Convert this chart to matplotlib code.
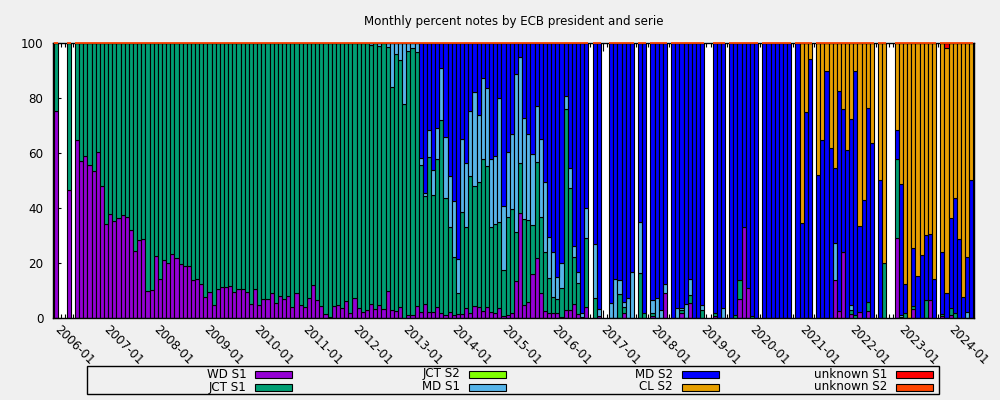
import matplotlib
matplotlib.use('Agg')
import matplotlib.pyplot as plt
from matplotlib.patches import Rectangle
import numpy as np

plt.rcParams['font.family'] = ['DejaVu Sans']

# Months 2006-01 .. 2024-06
months = [f"{2006 + k // 12}-{k % 12 + 1:02d}" for k in range(222)]

wd_s1 = [
    75.3, 0, 0, 46.8, 0, 65.0, 57.3, 59.2, 55.9, 53.7, 60.6, 48.2,
    34.2, 38.1, 35.5, 36.3, 37.4, 37.0, 32.2, 24.6, 28.3, 29.0, 10.1, 10.4,
    22.8, 14.4, 21.3, 20.2, 23.5, 22.1, 19.9, 18.9, 19.2, 13.8, 14.4, 12.6,
    7.9, 9.6, 5.0, 10.8, 11.5, 11.4, 11.9, 9.7, 10.8, 10.8, 9.7, 5.3,
    10.8, 5.0, 7.2, 7.2, 9.3, 5.7, 8.2, 7.2, 8.2, 4.2, 9.3, 5.0,
    4.2, 7.5, 12.2, 6.8, 4.6, 1.7, 0.6, 4.6, 5.0, 3.9, 6.4, 2.1,
    7.5, 3.9, 2.4, 3.2, 5.3, 3.5, 5.0, 3.5, 10.1, 3.2, 2.8, 4.2,
    0.2, 1.3, 1.3, 4.6, 2.4, 5.1, 2.4, 2.4, 4.0, 2.1, 1.1, 2.4,
    1.1, 1.6, 1.6, 3.6, 1.8, 4.6, 4.0, 2.8, 4.2, 2.4, 2.1, 3.6,
    0.8, 1.1, 2.1, 13.6, 38.2, 4.8, 6.1, 16.0, 21.8, 9.1, 2.8, 1.8,
    2.1, 1.8, 0.4, 3.0, 3.0, 5.1, 1.5, 0, 4.2, 0, 0, 0.8,
    0, 0, 0, 0, 0, 2.1, 0, 0, 0, 0, 0, 0,
    1.0, 0, 0, 9.3, 0, 0, 0, 1.9, 0, 5.7, 0, 0,
    0, 0, 0, 1.0, 0, 0, 0, 0, 0, 7.2, 33.2, 11.2,
    0, 0, 0, 0, 0, 0, 0, 0, 0, 0, 0, 0,
    0, 0, 0, 0, 0, 0, 0, 0, 13.9, 2.7, 24.1, 0,
    1.6, 0, 2.2, 0, 2.8, 0, 0, 0, 0, 0, 0, 29.1,
    0.6, 0, 0, 3.3, 0, 0, 0, 6.7, 0, 0, 0.8, 0,
    1.1, 0, 0, 0, 0, 0,
]

jct_s1 = [
    24.7, 0, 0, 53.2, 0, 35.0, 42.7, 40.8, 44.1, 46.3, 39.4, 51.8,
    65.8, 61.9, 64.5, 63.7, 62.6, 63.0, 67.8, 75.4, 71.7, 71.0, 89.9, 89.6,
    77.2, 85.6, 78.7, 79.8, 76.5, 77.9, 80.1, 81.1, 80.8, 86.2, 85.6, 87.4,
    92.1, 90.4, 95.0, 89.2, 88.5, 88.6, 88.1, 90.3, 89.2, 89.2, 90.3, 94.7,
    89.2, 95.0, 92.8, 92.8, 90.7, 94.3, 91.8, 92.8, 91.8, 95.8, 90.7, 95.0,
    95.8, 92.5, 87.8, 93.2, 95.4, 98.3, 99.4, 95.4, 95.0, 96.1, 93.6, 97.9,
    92.5, 96.1, 97.6, 96.8, 94.1, 96.5, 94.2, 96.5, 88.7, 80.9, 93.4, 89.8,
    77.9, 95.9, 97.1, 92.2, 53.4, 39.4, 56.4, 42.3, 53.8, 69.9, 42.5, 30.7,
    21.3, 7.5, 36.9, 29.5, 50.0, 43.5, 45.5, 55.1, 51.1, 30.7, 32.1, 31.6,
    16.8, 35.9, 37.5, 17.9, 18.2, 31.2, 29.7, 17.9, 34.9, 27.6, 21.3, 12.7,
    5.8, 5.1, 10.5, 73.0, 44.3, 17.1, 11.2, 0.4, 24.9, 0, 7.3, 0,
    0, 0, 0, 0, 8.7, 2.1, 0, 0, 0, 16.4, 1.8, 0,
    0.9, 0, 0, 0, 0, 0, 0, 1.3, 0, 2.9, 0, 0,
    3.2, 0, 0, 0.9, 0, 0, 0, 0, 1.3, 6.9, 0, 0,
    1.0, 0, 0, 0, 0, 0, 0, 0, 0, 0, 0, 0,
    0, 0, 0, 0, 0, 0, 0, 0, 0, 0, 0, 0,
    1.4, 1.2, 0, 0, 3.0, 0, 0, 0, 20.2, 0, 0, 28.7,
    0, 2.1, 0, 1.3, 0, 0, 6.7, 0, 0, 0, 0.8, 0,
    2.8, 1.8, 0, 0, 0, 0,
]

jct_s2 = [0] * 222

md_s1 = [0] * 72 + [
    0, 0, 0, 0, 0.6, 0, 0.8, 0, 1.2, 15.9, 3.8, 6.0,
    21.9, 2.8, 1.6, 3.2, 2.4, 1.0, 9.7, 9.2, 11.3, 19.2, 22.2, 18.8,
    20.4, 12.4, 26.6, 23.3, 23.5, 34.1, 24.6, 29.6, 28.3, 25.0, 25.0, 44.8,
    23.2, 23.6, 27.3, 57.3, 38.5, 36.7, 31.1, 25.7, 20.6, 28.4, 25.6, 15.2,
    16.2, 8.0, 9.1, 5.0, 7.5, 4.2, 4.3, 1.7, 10.9, 0, 19.7, 2.5,
    0, 0, 5.5, 14.2, 5.2, 1.9, 7.5, 17.0, 0, 18.8, 0, 0,
    4.9, 7.4, 3.2, 3.3, 0, 0, 3.9, 0.7, 5.3, 5.8, 0, 0,
    1.8, 0, 0, 0, 0, 3.9, 0, 0, 0, 0, 0, 0,
    0, 0, 0, 0, 0, 0, 0, 0, 0, 0, 0, 0,
    0, 0, 0, 0, 0, 0, 0, 0, 13.4, 0, 0, 0,
    1.7, 0, 0, 0, 0, 0, 0, 0, 0, 0, 0, 0,
    0.6, 0, 0, 0, 0, 0, 0, 0, 0, 0, 0, 0,
    0, 0, 0, 0, 2.4, 0,
]

md_s2 = [0] * 84 + [
    0, 0, 0, 0, 41.8, 54.5, 31.5, 46.1, 30.9, 8.8, 34.2, 48.1,
    57.2, 78.5, 34.9, 43.6, 24.7, 17.8, 25.9, 12.5, 16.4, 42.0, 40.8, 20.0,
    59.2, 39.4, 33.1, 11.2, 5.1, 27.3, 33.1, 40.4, 22.7, 34.9, 50.3, 70.3,
    75.9, 85.1, 80.0, 19.0, 45.2, 73.6, 83.0, 97.9, 60.0, 0, 73.0, 96.7,
    0, 0, 94.5, 85.8, 86.1, 93.9, 92.5, 83.0, 0, 64.8, 98.2, 0,
    93.2, 92.6, 96.8, 87.4, 0, 100, 96.1, 96.1, 94.7, 85.6, 100, 100,
    95.0, 0, 0, 98.1, 100, 96.1, 0, 100, 98.7, 85.9, 66.8, 88.8,
    99.0, 100, 0, 100, 100, 100, 100, 100, 100, 100, 0, 100,
    34.5, 74.9, 94.2, 0, 52.0, 64.8, 90.1, 61.8, 27.2, 80.1, 51.9, 61.2,
    67.7, 88.9, 31.4, 42.9, 70.6, 63.6, 0, 50.3, 0, 0, 0, 10.7,
    47.6, 10.3, 0, 20.9, 15.4, 23.0, 23.6, 24.0, 14.2, 0, 22.5, 9.1,
    32.5, 41.8, 28.7, 7.6, 20.0, 50.3,
]

cl_s2 = [0] * 180 + [
    65.5, 25.1, 5.8, 0, 48.0, 35.2, 9.9, 38.2, 45.5, 17.2, 24.0, 38.8,
    27.6, 9.9, 66.4, 57.1, 23.6, 36.4, 0, 49.7, 79.8, 0, 0, 31.5,
    51.2, 87.6, 100, 74.5, 84.6, 77.0, 69.7, 69.3, 85.8, 0, 75.9, 89.1,
    63.6, 56.4, 71.3, 92.4, 77.6, 49.7,
]

unknown_s1 = [0] * 215 + [1.8, 0, 0, 0, 0, 0, 0]
unknown_s2 = [0] * 222

series_names = ['WD S1', 'JCT S1', 'JCT S2', 'MD S1', 'MD S2', 'CL S2',
                'unknown S1', 'unknown S2']
series_values = [wd_s1, jct_s1, jct_s2, md_s1, md_s2, cl_s2, unknown_s1, unknown_s2]
series_colors = ['#9400d3', '#009e73', '#7fff00', '#56b4e9', '#0000ff',
                 '#e69f00', '#ff0000', '#ff4500']

W, H = 1000, 400
fig = plt.figure(figsize=(10, 4), dpi=100, facecolor='#f0f0f0')
ax = fig.add_axes([52.7 / W, 1 - 318.3 / H, (974 - 52.7) / W, (318.3 - 43.3) / H])
ax.set_facecolor('white')

x = np.arange(len(months))
bottom = np.zeros(len(months))
for name, vals, color in zip(series_names, series_values, series_colors):
    v = np.asarray(vals, dtype=float)
    m = v > 0
    if m.any():
        ax.bar(x[m], v[m], bottom=bottom[m], width=1.0, color=color,
               edgecolor='black', linewidth=0.8, zorder=2)
    bottom += v

# top edge of each non-empty month drawn in the last series colour
nz = bottom > 0
ax.bar(x[nz], np.asarray(unknown_s2, float)[nz], bottom=bottom[nz], width=1.0,
       color=series_colors[-1], edgecolor=series_colors[-1], linewidth=1.3,
       zorder=3, clip_on=False)

ax.set_xlim(-0.89, 221.64)
ax.set_ylim(0, 100)
ax.set_axisbelow(True)
for sp in ax.spines.values():
    sp.set_linewidth(1.0)
    sp.set_color('black')

ax.set_xticks(x[::12])
ax.set_xticklabels(months[::12])
ax.set_xticks(x, minor=True)
ax.tick_params(axis='x', which='major', direction='in', length=6, width=0.8,
               top=True, pad=7, labelsize=8.6)
ax.tick_params(axis='x', which='minor', direction='in', length=3, width=0.8, top=True)
for lab in ax.get_xticklabels():
    lab.set_rotation(-45)
    lab.set_ha('left')
    lab.set_va('center')
    lab.set_rotation_mode('anchor')

ax.set_yticks([0, 20, 40, 60, 80, 100])
ax.tick_params(axis='y', direction='in', length=6, width=0.8, right=True,
               pad=6.8, labelsize=8.6)

fig.text(513.3 / W, 1 - 22 / H, 'Monthly percent notes by ECB president and serie',
         ha='center', va='center', fontsize=8.6)

# legend (gnuplot style: text right-aligned, then swatch)
fig.add_artist(Rectangle((87 / W, 1 - 394 / H), (939 - 87) / W, 28 / H,
                         transform=fig.transFigure, fill=False,
                         edgecolor='black', linewidth=1.0))
text_right = [246.7, 460, 673, 887]
swatch_left = [255, 469, 682, 895.5]
row_y = [374, 387]
for k, (name, color) in enumerate(zip(series_names, series_colors)):
    col, row = k // 2, k % 2
    yc = row_y[row]
    fig.text(text_right[col] / W, 1 - yc / H, name, ha='right', va='center',
             fontsize=8.6)
    fig.add_artist(Rectangle((swatch_left[col] / W, 1 - (yc + 3.5) / H), 37 / W, 7 / H,
                             transform=fig.transFigure, facecolor=color,
                             edgecolor='black', linewidth=0.8))

fig.savefig('out.png', dpi=100, facecolor=fig.get_facecolor())
